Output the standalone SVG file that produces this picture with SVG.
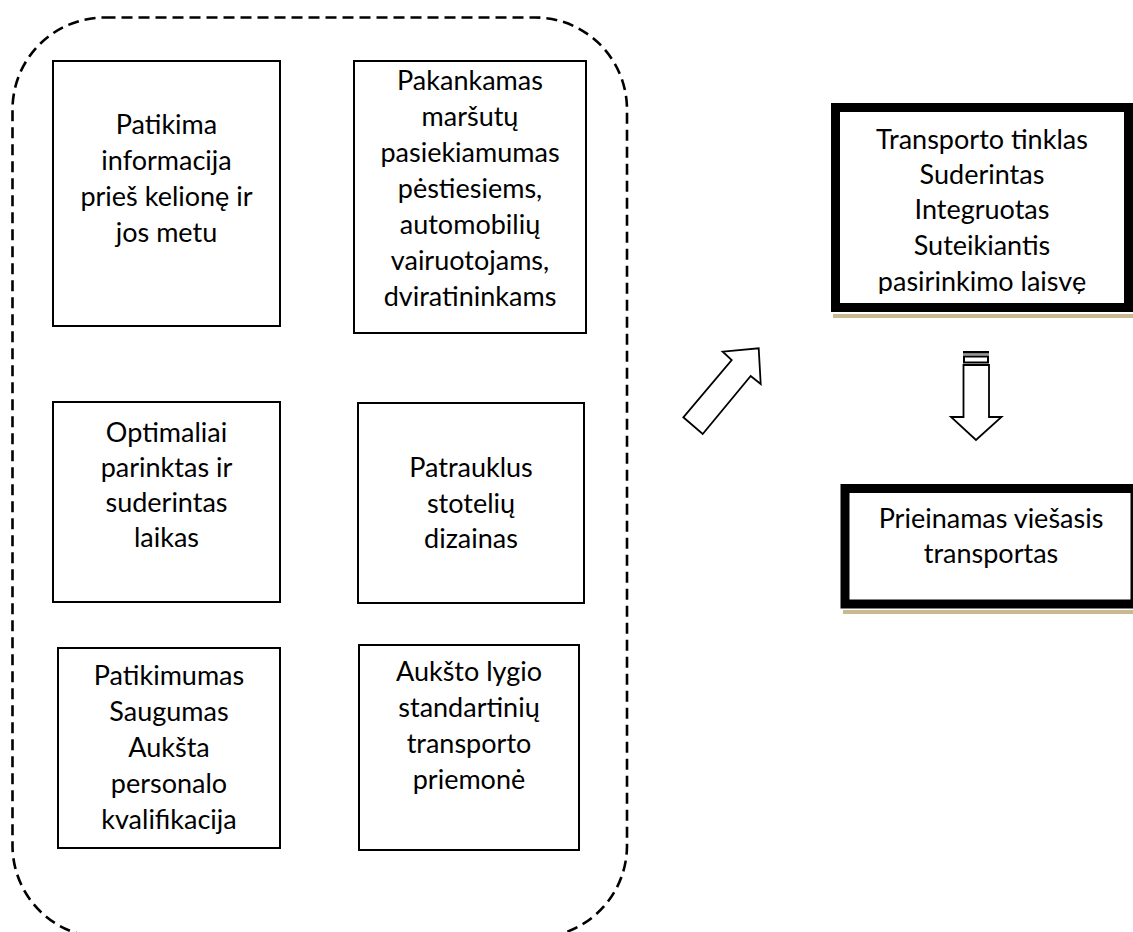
<svg xmlns="http://www.w3.org/2000/svg" width="1133" height="932" viewBox="0 0 1133 932">
<style>
.t{font-family:Lato,"Liberation Sans",sans-serif;font-size:27px;fill:#000;text-anchor:middle}
.box{fill:#fff;stroke:#000;stroke-width:2}
.bold{fill:#fff;stroke:#000;stroke-width:9}
.shadow{fill:#c9b98f}
.arrow{fill:#fff;stroke:#000;stroke-width:1.8;stroke-linejoin:miter}
</style>
<defs>
<clipPath id="clipTop"><rect x="839" y="111" width="285" height="183"/></clipPath>
</defs>
<rect width="1133" height="932" fill="#fff"/>
<g id="container">
<rect x="12.5" y="17.5" width="614.5" height="920" rx="92" ry="92" fill="none" stroke="#000" stroke-width="2.6" stroke-dasharray="11 6"/>
</g>
<g id="n1">
<rect class="box" x="53" y="61" width="227" height="265"/>
<text class="t" x="166.5" y="134">Patikima</text>
<text class="t" x="166.5" y="170">informacija</text>
<text class="t" x="166.5" y="206">prieš kelionę ir</text>
<text class="t" x="166.5" y="242">jos metu</text>
</g>
<g id="n2">
<rect class="box" x="354" y="61" width="232" height="272"/>
<text class="t" x="470" y="90">Pakankamas</text>
<text class="t" x="470" y="126">maršutų</text>
<text class="t" x="470" y="162">pasiekiamumas</text>
<text class="t" x="470" y="198">pėstiesiems,</text>
<text class="t" x="470" y="234">automobilių</text>
<text class="t" x="470" y="270">vairuotojams,</text>
<text class="t" x="470" y="306">dviratininkams</text>
</g>
<g id="n3">
<rect class="box" x="53" y="402" width="227" height="200"/>
<text class="t" x="166.5" y="442">Optimaliai</text>
<text class="t" x="166.5" y="477">parinktas ir</text>
<text class="t" x="166.5" y="512">suderintas</text>
<text class="t" x="166.5" y="547">laikas</text>
</g>
<g id="n4">
<rect class="box" x="358" y="403" width="226" height="200"/>
<text class="t" x="471" y="477">Patrauklus</text>
<text class="t" x="471" y="513">stotelių</text>
<text class="t" x="471" y="548">dizainas</text>
</g>
<g id="n5">
<rect class="box" x="58" y="648" width="222" height="200"/>
<text class="t" x="169" y="685">Patikimumas</text>
<text class="t" x="169" y="721">Saugumas</text>
<text class="t" x="169" y="757">Aukšta</text>
<text class="t" x="169" y="793">personalo</text>
<text class="t" x="169" y="829">kvalifikacija</text>
</g>
<g id="n6">
<rect class="box" x="359" y="645" width="220" height="205"/>
<text class="t" x="469" y="681">Aukšto lygio</text>
<text class="t" x="469" y="717">standartinių</text>
<text class="t" x="469" y="753">transporto</text>
<text class="t" x="469" y="789">priemonė</text>
</g>
<g id="n7">
<rect class="shadow" x="833" y="314" width="300" height="4"/>
<rect class="bold" x="835.5" y="107.5" width="293" height="200"/>
<g clip-path="url(#clipTop)">
<text class="t" x="982" y="149">Transporto tinklas</text>
<text class="t" x="982" y="184">Suderintas</text>
<text class="t" x="982" y="219">Integruotas</text>
<text class="t" x="982" y="255">Suteikiantis</text>
<text class="t" x="982" y="291">pasirinkimo laisvę</text>
</g>
</g>
<g id="n8">
<rect class="shadow" x="843" y="610" width="290" height="4"/>
<rect class="bold" x="845" y="488.5" width="290" height="115.5"/>
<text class="t" x="991" y="528">Prieinamas viešasis</text>
<text class="t" x="991" y="563">transportas</text>
</g>
<g id="connectors">
<polygon class="arrow" points="683.3,417.3 702.7,434 750.7,376 760.7,384 758.7,348.3 722.7,351.7 731.7,360"/>
<rect x="963" y="351" width="26" height="2.5" fill="#000"/>
<line x1="963" y1="354.6" x2="989" y2="354.6" stroke="#888" stroke-width="1"/>
<rect x="964" y="356.5" width="24" height="6" fill="#fff" stroke="#000" stroke-width="2"/>
<polygon class="arrow" points="963.5,365 989,365 989,417 1001.5,417 976,440 951,417 963.5,417"/>
</g>
</svg>
